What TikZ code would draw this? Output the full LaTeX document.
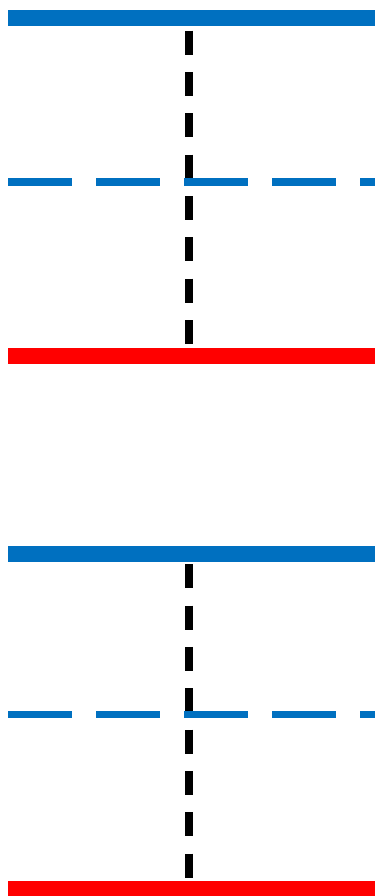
\documentclass[tikz,border=0pt]{standalone}
\usepackage{xcolor}
\usepackage{tikz}
\definecolor{levelblue}{HTML}{0070C0}
\definecolor{levelred}{HTML}{FF0000}

\begin{document}
\begin{tikzpicture}[x=1pt,y=-1pt]
    \useasboundingbox (0,0) rectangle (375,896);
    \clip (0,0) rectangle (375,896);

    % two panels: top bar, dashed level, bottom bar, vertical guide
    \foreach \yb/\yd/\yr/\ys/\ye in {18/182/356.3/30.7/344, 553.7/714.3/888.7/564.3/878.3} {
        \draw[black, line width=7.3, dash pattern=on 24 off 17.33] (189,\ys) -- (189,\ye);
        \draw[levelblue, line width=16] (8,\yb) -- (375,\yb);
        \draw[levelblue, line width=7.4, dash pattern=on 64 off 24] (8,\yd) -- (375,\yd);
        \draw[levelred, line width=16] (8,\yr) -- (375,\yr);
    }
\end{tikzpicture}
\end{document}
